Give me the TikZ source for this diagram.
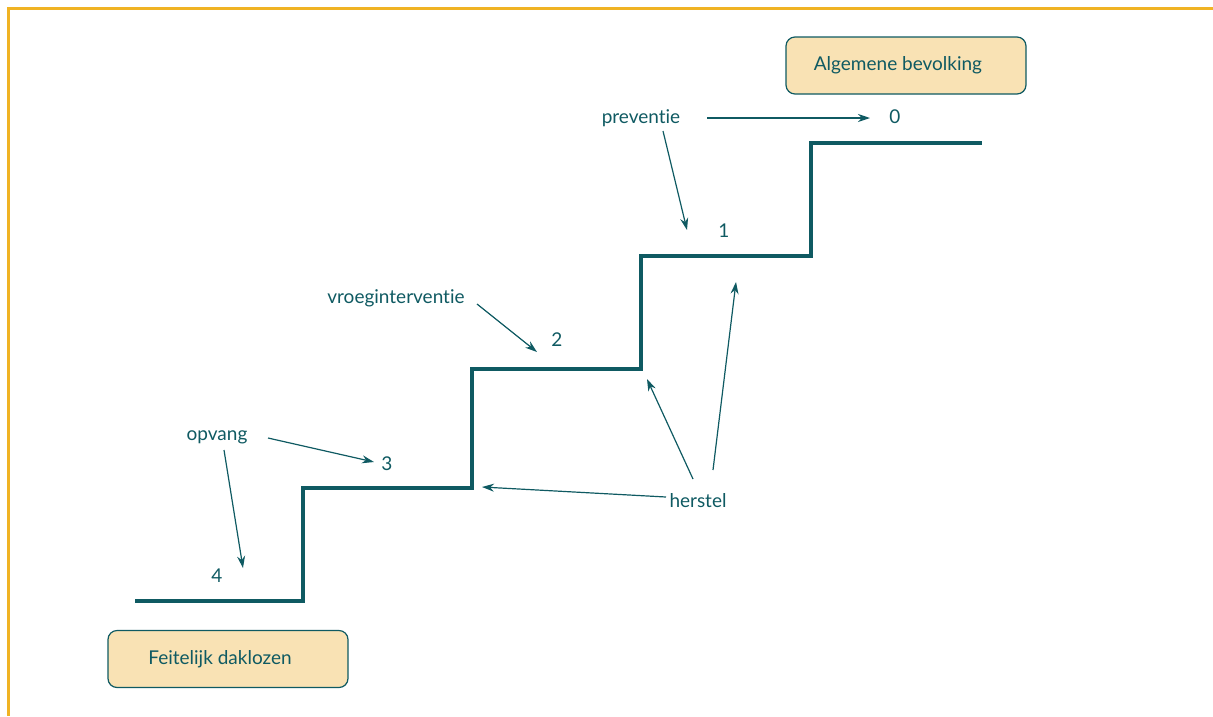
\documentclass[tikz,border=0pt]{standalone}
\usepackage{fontspec}
\setmainfont{Lato}[Ligatures=CommonOff]
\usetikzlibrary{arrows.meta}
\definecolor{teal}{HTML}{0F5A62}
\definecolor{boxfill}{HTML}{F9E2B4}
\definecolor{frameor}{HTML}{F0B323}
\begin{document}
\begin{tikzpicture}[x=1pt,y=-1pt,
  lbl/.style={text=teal,font=\fontsize{19}{23}\selectfont,inner sep=0pt},
  boxnode/.style={draw=teal,fill=boxfill,line width=1.2pt,rounded corners=9pt,minimum width=240pt,minimum height=57pt,text=teal,font=\fontsize{19}{23}\selectfont},
  arr/.style={draw=teal,line width=1.2pt,-{Stealth[length=12pt,width=8pt]}},
  stair/.style={draw=teal,line width=3.8pt}]
\useasboundingbox (0,0) rectangle (1213,716);
\draw[frameor,line width=3pt] (1213,8.5) -- (8.5,8.5) -- (8.5,716);
% staircase
\coordinate (s0) at (135,601);
\coordinate (s1) at (303,601);
\coordinate (s2) at (303,488);
\coordinate (s3) at (472,488);
\coordinate (s4) at (472,369);
\coordinate (s5) at (641,369);
\coordinate (s6) at (641,256);
\coordinate (s7) at (811,256);
\coordinate (s8) at (811,143);
\coordinate (s9) at (982,143);
\draw[stair] (s0) -- (s1) -- (s2) -- (s3) -- (s4) -- (s5) -- (s6) -- (s7) -- (s8) -- (s9);
% boxes
\node[boxnode] (alg) at (906,65.5) {\hspace*{-16pt}Algemene bevolking};
\node[boxnode] (feit) at (228,659) {\hspace*{-16pt}Feitelijk daklozen};
% labels
\node[lbl] (prev) at (641,118) {preventie};
\node[lbl] (n0) at (895,117) {0};
\node[lbl] (n1) at (724,231) {1};
\node[lbl] (vroeg) at (396,298) {vroeginterventie};
\node[lbl] (n2) at (557,340) {2};
\node[lbl] (opv) at (217,437) {opvang};
\node[lbl] (n3) at (387,464) {3};
\node[lbl] (n4) at (217,576) {4};
\node[lbl] (herst) at (698,501) {herstel};
% arrow endpoints
\coordinate (p0a) at (707,118); \coordinate (p0b) at (870,118);
\coordinate (p1a) at (663,131); \coordinate (p1b) at (687,230);
\coordinate (v2a) at (477,304); \coordinate (v2b) at (537,352);
\coordinate (o3a) at (268,438); \coordinate (o3b) at (374,462);
\coordinate (o4a) at (224,450); \coordinate (o4b) at (243,568);
\coordinate (h1a) at (693,479); \coordinate (h1b) at (647,379);
\coordinate (h2a) at (666,497); \coordinate (h2b) at (482,487);
\coordinate (h3a) at (713,470); \coordinate (h3b) at (736,282);
\draw[arr] (p0a) -- (p0b);
\draw[arr] (p1a) -- (p1b);
\draw[arr] (v2a) -- (v2b);
\draw[arr] (o3a) -- (o3b);
\draw[arr] (o4a) -- (o4b);
\draw[arr] (h1a) -- (h1b);
\draw[arr] (h2a) -- (h2b);
\draw[arr] (h3a) -- (h3b);
\end{tikzpicture}
\end{document}
